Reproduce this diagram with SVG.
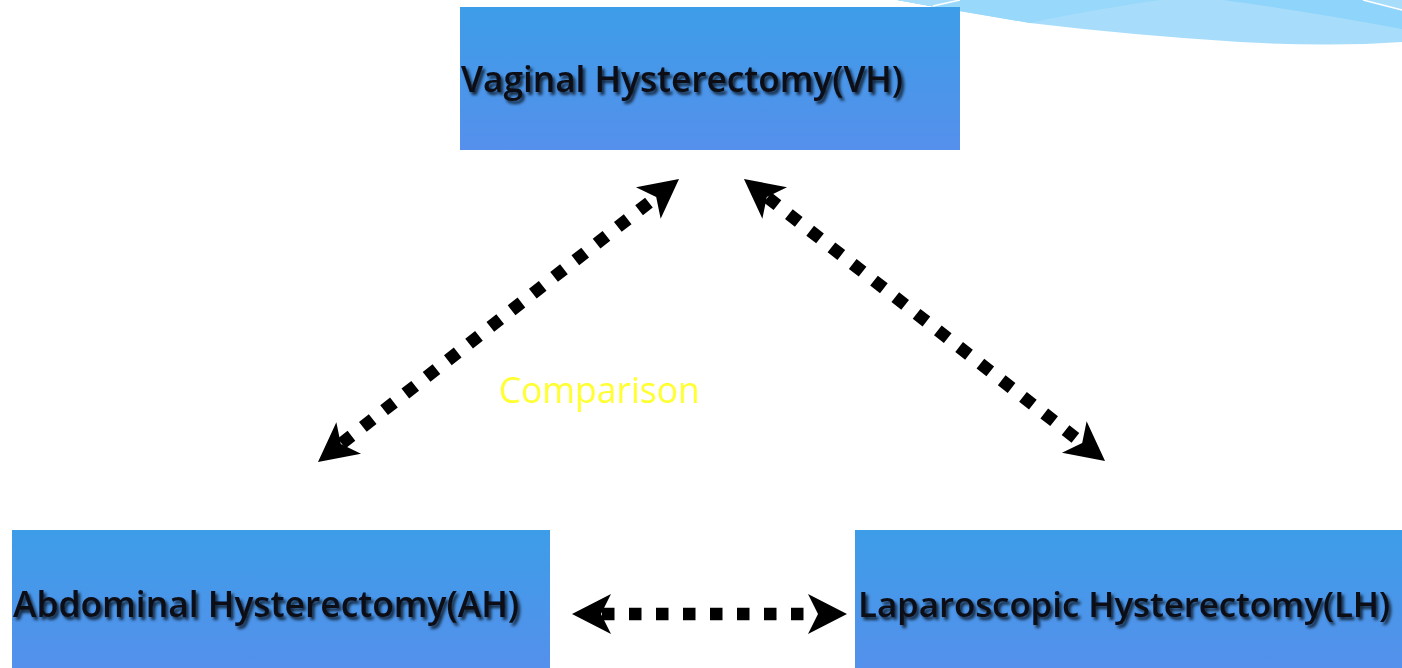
<svg xmlns="http://www.w3.org/2000/svg" width="1402" height="668" viewBox="0 0 1402 668">
  <defs>
    <linearGradient id="boxGrad" x1="0" y1="0" x2="0" y2="1">
      <stop offset="0" stop-color="#3d9de8"/>
      <stop offset="1" stop-color="#5590ec"/>
    </linearGradient>
    <filter id="shadow" x="-1%" y="-30%" width="102%" height="160%">
      <feDropShadow dx="2.5" dy="3" stdDeviation="1.8" flood-color="#000" flood-opacity="0.75"/>
    </filter>
    <marker id="head" viewBox="0 -21 42 42" markerWidth="42" markerHeight="42" refX="9" refY="0" markerUnits="userSpaceOnUse" orient="auto-start-reverse">
      <path d="M0,-20 L39,0 L0,20 L10,0 Z" fill="#000"/>
    </marker>
  </defs>
  <style>
    .box { fill: url(#boxGrad); }
    .label { font-family: "Open Sans", "Noto Sans", "Liberation Sans", sans-serif; font-weight: 600; font-size: 36px; fill: #0b0b14; filter: url(#shadow); }
    .small { font-size: 34px; }
    .conn { stroke: #000; stroke-width: 12.5; stroke-dasharray: 12.5 14.5; fill: none; marker-start: url(#head); marker-end: url(#head); }
    .note { font-family: "Open Sans", "Noto Sans", "Liberation Sans", sans-serif; font-weight: 400; font-size: 37px; fill: #ffff33; }
  </style>
  <rect width="1402" height="668" fill="#ffffff"/>

  <g id="swoosh">
    <path d="M897,0 L1402,0 L1402,42 Q1330,47 1240,42 Q1130,35 1030,23 L930,6 Z" fill="#a7ddfb"/>
    <path d="M897,0 L930,6 L1030,23 Q1090,10 1160,0 Z" fill="#98d8fb"/>
    <path d="M1223,0 Q1310,12 1402,29 L1402,0 Z" fill="#8fd4fa"/>
    <path d="M897,0 L931,6 L960,0 Z" fill="#a7ddfb"/>
    <path d="M1363,0 L1402,10 L1402,0 Z" fill="#a7ddfb"/>
    <path d="M933,6 L960,0 M1363,0 L1402,10" stroke="#ffffff" stroke-width="1.5" fill="none"/>
  </g>

  <g id="node-vh">
    <rect class="box" x="460" y="7" width="500" height="143"/>
    <text class="label" x="461" y="92" textLength="442" lengthAdjust="spacingAndGlyphs">Vaginal Hysterectomy(VH)</text>
  </g>

  <g id="node-ah">
    <rect class="box" x="12" y="530" width="538" height="143"/>
    <text class="label" x="13" y="617" textLength="506" lengthAdjust="spacingAndGlyphs">Abdominal Hysterectomy(AH)</text>
  </g>

  <g id="node-lh">
    <rect class="box" x="855" y="530" width="547" height="143"/>
    <text class="label small" x="858" y="617" textLength="532" lengthAdjust="spacingAndGlyphs">Laparoscopic Hysterectomy(LH)</text>
  </g>

  <g id="connectors">
    <line class="conn" x1="341.6" y1="443.5" x2="655.4" y2="197.5"/>
    <line class="conn" x1="767.6" y1="197.5" x2="1081.4" y2="442.5"/>
    <line class="conn" x1="602" y1="614" x2="817" y2="614"/>
  </g>

  <g id="label-comparison">
    <text class="note" x="499" y="403" textLength="201" lengthAdjust="spacingAndGlyphs">Comparison</text>
  </g>
</svg>
